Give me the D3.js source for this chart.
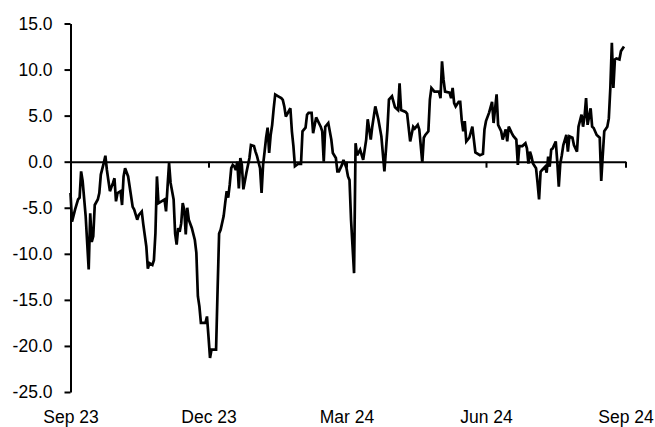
<!DOCTYPE html>
<html>
<head>
<meta charset="utf-8">
<script src="https://cdn.jsdelivr.net/npm/d3@7/dist/d3.min.js"></script>
<style>
  html, body { margin: 0; padding: 0; background: #fff; }
  svg { display: block; }
  text { font-family: "Liberation Sans", Arial, sans-serif; }
</style>
</head>
<body>
<svg id="chart" width="655" height="427"></svg>
<script>
// Daily observations, Sep 2023 - Aug 2024
const dates = [
  "2023-09-01","2023-09-02","2023-09-04","2023-09-06","2023-09-07","2023-09-08","2023-09-09","2023-09-11",
  "2023-09-13","2023-09-14","2023-09-15","2023-09-16","2023-09-17","2023-09-19","2023-09-20","2023-09-21",
  "2023-09-23","2023-09-24","2023-09-25","2023-09-27","2023-09-29","2023-09-30","2023-10-01","2023-10-02",
  "2023-10-04","2023-10-05","2023-10-06","2023-10-07","2023-10-09","2023-10-10","2023-10-12","2023-10-13",
  "2023-10-15","2023-10-16","2023-10-18","2023-10-19","2023-10-21","2023-10-22","2023-10-23","2023-10-25",
  "2023-10-26","2023-10-27","2023-10-28","2023-10-29","2023-10-31","2023-11-02","2023-11-03","2023-11-04",
  "2023-11-05","2023-11-06","2023-11-08","2023-11-09","2023-11-10","2023-11-11","2023-11-12","2023-11-13",
  "2023-11-14","2023-11-15","2023-11-16","2023-11-17","2023-11-18","2023-11-20","2023-11-22","2023-11-23",
  "2023-11-24","2023-11-25","2023-11-26","2023-11-29","2023-11-30","2023-12-01","2023-12-02","2023-12-03",
  "2023-12-06","2023-12-07","2023-12-08","2023-12-09","2023-12-11","2023-12-12","2023-12-13","2023-12-14",
  "2023-12-15","2023-12-16","2023-12-17","2023-12-18","2023-12-19","2023-12-20","2023-12-21","2023-12-22",
  "2023-12-23","2023-12-24","2023-12-25","2023-12-26","2023-12-28","2023-12-29","2023-12-31","2024-01-01",
  "2024-01-02","2024-01-04","2024-01-05","2024-01-06","2024-01-07","2024-01-08","2024-01-09","2024-01-10",
  "2024-01-11","2024-01-12","2024-01-13","2024-01-14","2024-01-16","2024-01-18","2024-01-19","2024-01-20",
  "2024-01-21","2024-01-23","2024-01-24","2024-01-25","2024-01-26","2024-01-27","2024-01-29","2024-01-31",
  "2024-02-01","2024-02-03","2024-02-04","2024-02-05","2024-02-07","2024-02-08","2024-02-10","2024-02-13",
  "2024-02-14","2024-02-15","2024-02-16","2024-02-18","2024-02-20","2024-02-21","2024-02-23","2024-02-24",
  "2024-02-25","2024-02-27","2024-02-28","2024-03-01","2024-03-02","2024-03-03","2024-03-04","2024-03-06",
  "2024-03-07","2024-03-08","2024-03-10","2024-03-12","2024-03-14","2024-03-15","2024-03-17","2024-03-18",
  "2024-03-20","2024-03-22","2024-03-24","2024-03-26","2024-03-28","2024-03-29","2024-03-31","2024-04-02",
  "2024-04-04","2024-04-05","2024-04-06","2024-04-09","2024-04-10","2024-04-12","2024-04-14","2024-04-15",
  "2024-04-17","2024-04-18","2024-04-20","2024-04-21","2024-04-22","2024-04-24","2024-04-25","2024-04-26",
  "2024-04-28","2024-05-01","2024-05-02","2024-05-03","2024-05-04","2024-05-05","2024-05-08","2024-05-09",
  "2024-05-10","2024-05-11","2024-05-12","2024-05-14","2024-05-15","2024-05-16","2024-05-17","2024-05-18",
  "2024-05-19","2024-05-21","2024-05-23","2024-05-24","2024-05-25","2024-05-28","2024-05-30","2024-05-31",
  "2024-06-01","2024-06-03","2024-06-05","2024-06-06","2024-06-08","2024-06-09","2024-06-11","2024-06-12",
  "2024-06-14","2024-06-15","2024-06-16","2024-06-18","2024-06-19","2024-06-21","2024-06-22","2024-06-23",
  "2024-06-25","2024-06-27","2024-06-28","2024-06-29","2024-06-30","2024-07-01","2024-07-02","2024-07-04",
  "2024-07-05","2024-07-06","2024-07-07","2024-07-08","2024-07-10","2024-07-11","2024-07-12","2024-07-13",
  "2024-07-14","2024-07-15","2024-07-17","2024-07-18","2024-07-19","2024-07-20","2024-07-21","2024-07-22",
  "2024-07-24","2024-07-25","2024-07-26","2024-07-28","2024-07-29","2024-07-31","2024-08-01","2024-08-03",
  "2024-08-04","2024-08-05","2024-08-06","2024-08-07","2024-08-09","2024-08-10","2024-08-11","2024-08-13",
  "2024-08-15","2024-08-16","2024-08-17","2024-08-18","2024-08-20","2024-08-21","2024-08-22","2024-08-23",
  "2024-08-24","2024-08-25","2024-08-26","2024-08-28","2024-08-29","2024-08-31"
];

const values = [
  -3.4, -6.5, -5.2, -4.1, -3.9, -1.05, -2.1, -5.9,
  -11.7, -5.6, -8.7, -8.1, -4.7, -4.1, -3.4, -1.4,
  -0.1, 0.65, -0.9, -3.2, -2.3, -1.8, -4.3, -3.4,
  -3.2, -4.7, -1.6, -0.7, -1.6, -2.7, -4.9, -5.2,
  -6.3, -5.8, -5.4, -6.8, -9.2, -11.6, -11.0, -11.2,
  -10.7, -7.8, -1.6, -4.5, -4.3, -4.1, -5.4, -2.7,
  -0.15, -2.3, -4.1, -7.8, -9.0, -7.2, -7.6, -6.7,
  -4.5, -5.2, -7.9, -5.0, -6.3, -7.2, -8.5, -9.9,
  -14.6, -15.7, -17.5, -17.5, -16.8, -19.0, -21.3, -20.4,
  -20.4, -13.9, -7.8, -7.4, -5.9, -4.5, -3.2, -3.9,
  -2.5, -0.7, -0.35, -0.5, -0.9, 0.0, -2.9, 0.4,
  -0.35, -3.0, -2.1, -1.2, 0.4, 1.8, 1.7, 1.1,
  0.6, -0.7, -3.4, -0.35, 1.1, 2.6, 3.7, 0.95,
  2.9, 4.0, 5.8, 7.3, 7.1, 6.9, 6.7, 6.0,
  4.9, 5.5, 5.8, 3.3, 1.7, -0.5, -0.25, -0.25,
  3.3, 3.7, 5.1, 5.3, 5.3, 3.1, 4.8, 3.8,
  3.3, 0.0, 3.8, 4.2, 2.4, 0.95, 0.4, -1.05,
  -1.05, -0.35, 0.2, -0.7, -1.6, -2.0, -6.3, -12.1,
  2.0, 0.7, 1.3, 0.2, 2.4, 4.6, 2.4, 3.8,
  6.0, 4.6, 2.75, -1.05, 3.5, 6.75, 7.1, 5.9,
  5.6, 8.5, 5.6, 5.4, 5.2, 2.2, 3.8, 3.6,
  4.0, 3.5, -0.1, 2.6, 2.9, 3.3, 6.75, 8.0,
  7.6, 7.6, 6.9, 10.9, 8.9, 7.6, 7.5, 6.9,
  8.0, 6.35, 6.0, 6.5, 6.5, 4.5, 3.3, 4.4,
  2.2, 2.6, 3.8, 2.4, 1.0, 0.7, 0.85, 3.5,
  4.4, 5.3, 6.5, 4.2, 7.3, 4.0, 3.3, 2.4,
  3.5, 2.2, 3.8, 3.1, 2.8, 2.4, -0.35, 1.7,
  1.7, 2.0, 1.45, -0.2, 1.1, 0.55, -0.2, -0.7,
  -2.3, -4.1, -1.1, -0.9, -0.55, -1.2, 0.55, -0.55,
  1.3, 1.45, 2.2, 0.0, -2.7, -0.2, 0.7, 1.8,
  2.9, 1.1, 2.75, 2.6, 1.8, 1.1, 3.8, 5.1,
  3.8, 4.9, 6.9, 4.0, 5.8, 3.8, 3.65, 2.9,
  2.6, -2.1, 0.7, 3.3, 3.8, 4.7, 8.0, 12.9,
  8.0, 11.1, 11.2, 11.1, 12.0, 12.5
];

const yTicks = [-25, -20, -15, -10, -5, 0, 5, 10, 15];
const xTickDates = ["2023-09-01", "2023-12-01", "2024-03-01", "2024-06-01", "2024-09-01"];
const xTickLabels = ["Sep 23", "Dec 23", "Mar 24", "Jun 24", "Sep 24"];

const parse = d3.timeParse("%Y-%m-%d");
const series = dates.map((d, i) => ({ date: parse(d), value: values[i] }));
const tickDates = xTickDates.map(parse);

const svg = d3.select("#chart");
const plot = { left: 70.5, right: 625.5, top: 23.5, bottom: 392 };

const x = d3.scaleTime()
  .domain([tickDates[0], tickDates[tickDates.length - 1]])
  .range([plot.left, plot.right]);
const y = d3.scaleLinear().domain([-25, 15]).range([plot.bottom, plot.top]);

// Vertical value axis (plain hyphen for negatives)
const yAxis = svg.append("g")
  .attr("transform", `translate(${plot.left},0)`)
  .call(d3.axisLeft(y).tickValues(yTicks).tickSize(6).tickSizeOuter(0).tickPadding(12)
    .tickFormat(d => d.toFixed(1)));
yAxis.select(".domain").attr("stroke", "#000").attr("stroke-width", 2);
yAxis.selectAll(".tick line").attr("stroke", "#000").attr("stroke-width", 2);
yAxis.selectAll(".tick text")
  .attr("font-size", 17.5)
  .attr("fill", "#000")
  .attr("font-family", "'Liberation Sans', Arial, sans-serif");

// Zero line with month ticks
const zeroAxis = svg.append("g")
  .attr("transform", `translate(0,${y(0)})`)
  .call(d3.axisBottom(x).tickValues(tickDates).tickSize(6).tickSizeOuter(0).tickFormat(""));
zeroAxis.select(".domain").attr("stroke", "#000").attr("stroke-width", 2);
zeroAxis.selectAll(".tick line").attr("stroke", "#000").attr("stroke-width", 2);

// Month labels along the bottom
const labelAxis = svg.append("g")
  .attr("transform", `translate(0,${plot.bottom})`)
  .call(d3.axisBottom(x).tickValues(tickDates).tickSize(0).tickPadding(19)
    .tickFormat((d, i) => xTickLabels[i]));
labelAxis.select(".domain").remove();
labelAxis.selectAll(".tick text")
  .attr("font-size", 17.5)
  .attr("fill", "#000")
  .attr("font-family", "'Liberation Sans', Arial, sans-serif");

// Series line
const line = d3.line().x(d => x(d.date)).y(d => y(d.value));
svg.append("path")
  .datum(series)
  .attr("fill", "none")
  .attr("stroke", "#000")
  .attr("stroke-width", 2.7)
  .attr("stroke-linejoin", "miter")
  .attr("stroke-miterlimit", 3)
  .attr("d", line);
</script>
</body>
</html>
